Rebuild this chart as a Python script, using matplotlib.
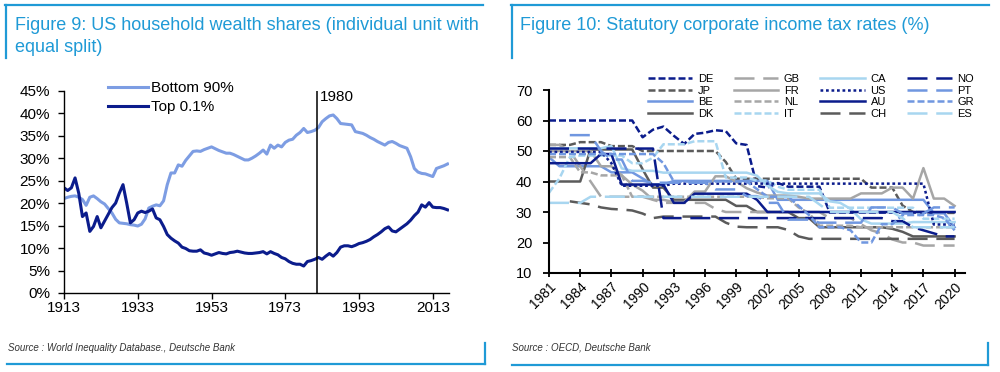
import numpy as np
import matplotlib.pyplot as plt
from matplotlib.lines import Line2D
from matplotlib.ticker import FuncFormatter

plt.rcParams['font.family'] = ['Liberation Sans', 'DejaVu Sans']

# ---------- data: figure 9 ----------
wealth_years = list(range(1913, 2018))
bottom90 = [21.0, 21.3, 21.5, 21.6, 21.3, 20.8, 19.5, 21.3, 21.6, 21.0,
            20.3, 19.8, 18.8, 17.8, 16.4, 15.6, 15.5, 15.4, 15.2, 15.1,
            14.9, 15.3, 16.5, 18.9, 19.3, 19.6, 19.4, 20.5, 24.1, 26.7,
            26.7, 28.5, 28.2, 29.5, 30.5, 31.5, 31.6, 31.5, 31.9, 32.2,
            32.5, 32.1, 31.7, 31.4, 31.1, 31.1, 30.8, 30.4, 30.0, 29.6,
            29.6, 30.0, 30.5, 31.1, 31.8, 30.9, 32.9, 32.2, 32.9, 32.5,
            33.5, 34.0, 34.2, 35.1, 35.7, 36.6, 35.7, 35.9, 36.2, 36.8,
            38.1, 38.8, 39.4, 39.6, 38.8, 37.7, 37.6, 37.5, 37.4, 35.9,
            35.7, 35.5, 35.1, 34.6, 34.2, 33.7, 33.3, 32.9, 33.5, 33.7,
            33.3, 32.8, 32.5, 32.2, 30.3, 27.7, 26.9, 26.6, 26.5, 26.2,
            25.9, 27.7, 28.0, 28.3, 28.7]
top01 = [23.4, 22.8, 23.4, 25.6, 22.2, 17.0, 17.8, 13.7, 14.8, 17.0,
         14.5, 16.0, 17.5, 19.0, 20.0, 22.2, 24.1, 20.0, 15.6, 16.3,
         17.8, 18.2, 17.9, 18.2, 18.7, 16.7, 16.3, 14.8, 13.0, 12.2,
         11.6, 11.1, 10.2, 9.9, 9.4, 9.3, 9.3, 9.6, 8.9, 8.7,
         8.4, 8.7, 9.0, 8.8, 8.7, 9.0, 9.1, 9.3, 9.1, 8.9,
         8.8, 8.8, 8.9, 9.0, 9.2, 8.7, 9.2, 8.8, 8.5, 7.9,
         7.6, 7.0, 6.6, 6.4, 6.4, 6.0, 7.0, 7.2, 7.5, 7.9,
         7.5, 8.2, 8.8, 8.2, 9.0, 10.2, 10.5, 10.5, 10.3, 10.6,
         11.0, 11.2, 11.5, 11.9, 12.5, 13.0, 13.6, 14.3, 14.7, 13.8,
         13.6, 14.2, 14.8, 15.4, 16.2, 17.2, 18.0, 19.6, 19.1, 20.1,
         19.1, 19.0, 19.0, 18.8, 18.5]
wealth_ticks = [1913, 1933, 1953, 1973, 1993, 2013]
marker_label = "1980"
marker_pos = 1981.5

# ---------- data: figure 10 ----------
tax_years = list(range(1981, 2021))
nan = np.nan
DE = [60]*9 + [54.5, 57.0, 58.0, 55.0, 52.3, 55.6, 56.0, 56.8, 56.5, 52.5, 52.0,
               38.5, 38.0, 39.5, 38.3, 38.3, 38.3, 38.3] + [29.8]*13
JP = [52.0]*3 + [52.9]*3 + [51.6]*3 + [50.0]*8 + [46.4] + [40.9]*13 + [38.0]*3 + [32.1] + [30.0]*2 + [29.7]*3
BE = [48, 45] + [45]*4 + [43]*3 + [41, 39, 39] + [40.2]*10 + [34.0]*15 + [29.6]*2 + [25.0]
DK = [40]*4 + [50.5]*5 + [44, 38, 38, 34] + [34]*5 + [32]*2 + [30]*4 + [28]*2 + [25]*7 + [24.5, 23.5] + [22]*5
GB = [52, 52, 50, 45, 40, 35] + [35]*4 + [34] + [33]*5 + [31] + [30]*10 + [28]*3 + [26, 24, 23, 21] + [20]*2 + [19]*4
FR = [50]*5 + [45, 45, 42, 39, 37, 34, 34, 33.3, 33.3, 36.7, 36.7, 41.7, 41.7, 40.0, 37.8, 36.4] + \
     [35.4]*3 + [35.0] + [34.4]*5 + [36.1]*3 + [38.0]*2 + [34.4, 44.4, 34.4, 34.4, 32.0]
NL = [48]*3 + [43]*2 + [42]*3 + [35]*13 + [34.5]*3 + [31.5, 29.6] + [25.5]*4 + [25]*10
IT = [36.3, 41.0, 48.0] + [48.5]*5 + [46.0]*2 + [47.8] + [52.2]*3 + [53.2]*3 + [41.3]*3 + \
     [40.3]*2 + [38.3] + [37.3]*4 + [31.4]*9 + [27.8]*4
CA = [50.9]*6 + [51.6, 44.3] + [43.5]*3 + [42.9]*9 + [41.9, 38.6, 36.6] + [36.1]*4 + \
     [33.5, 33.0, 31.0, 27.6] + [26.2]*4 + [26.7]*5
US = [49.7]*6 + [46.0] + [38.6]*5 + [39.3]*25 + [25.9]*3
AU = [46]*5 + [49]*2 + [39]*5 + [33]*2 + [36]*6 + [34] + [30]*19
CH = [nan]*2 + [33.5, 33.0, 32.5, 31.5, 31.0, 30.8, 30.5, 29.5, 28.0] + [28.5]*6 + \
     [26.5, 25.2] + [25.0]*4 + [24.1, 22.0] + [21.2]*15
NO = [50.8]*11 + [28]*22 + [27]*2 + [25, 24, 23, 22, 22]
PT = [nan]*2 + [55.2]*3 + [50.0, 47.2, 47.2] + [40.2]*2 + [39.6]*6 + [37.4]*3 + [35.2]*2 + \
     [33.0]*2 + [27.5]*3 + [26.5]*5 + [31.5]*3 + [29.5]*3 + [31.5]*3
GR = [49.0]*11 + [46.0] + [40.0]*8 + [37.5] + [35]*3 + [32, 29] + [25]*3 + [24] + [20]*2 + \
     [26]*2 + [29]*4 + [28, 24]
ES = [33]*4 + [35]*22 + [32.5] + [30]*7 + [28] + [25]*5
tax_ticks = list(range(1981, 2021, 3))

# ---------- styles ----------
navy = '#0b1c8c'
dgrey = '#5b5b5b'
mgrey = '#a6a6a6'
mblue = '#7097e0'
lblue = '#a8d6f0'
dbblue = '#1f9ad6'

short = (0, (2.8, 1.2))
longd = (0, (8, 3.5))
dots = (0, (1.1, 1.1))

countries = [
    ('DE', DE, navy, short), ('JP', JP, dgrey, short), ('BE', BE, mblue, '-'), ('DK', DK, dgrey, '-'),
    ('GB', GB, mgrey, longd), ('FR', FR, mgrey, '-'), ('NL', NL, mgrey, short), ('IT', IT, lblue, short),
    ('CA', CA, lblue, '-'), ('US', US, navy, dots), ('AU', AU, navy, '-'), ('CH', CH, dgrey, longd),
    ('NO', NO, navy, longd), ('PT', PT, mblue, longd), ('GR', GR, mblue, short), ('ES', ES, lblue, longd),
]

W, H = 1000, 372
def fx(px):
    return px / W
def fy(py):
    return 1 - py / H

fig = plt.figure(figsize=(10, 3.72), dpi=100)

# ---------- left chart ----------
ax1 = fig.add_axes([fx(64), fy(293), fx(449 - 64), (293 - 90.7) / H])
ax1.plot(wealth_years, bottom90, color='#7d9de3', lw=2.2, label='Bottom 90%')
ax1.plot(wealth_years, top01, color=navy, lw=2.2, label='Top 0.1%')
ax1.axvline(marker_pos, color='black', lw=1.1)
ax1.text(marker_pos + 1.0, 43.7, marker_label, fontsize=11, va='center', ha='left')
ax1.set_xlim(1913, 2017.4)
ax1.set_ylim(0, 45)
ax1.set_yticks(range(0, 46, 5))
ax1.yaxis.set_major_formatter(FuncFormatter(lambda v, p: f"{v:.0f}%"))
ax1.set_xticks(wealth_ticks)
for s in ['top', 'right']:
    ax1.spines[s].set_visible(False)
for s in ['left', 'bottom']:
    ax1.spines[s].set_linewidth(1.0)
ax1.tick_params(axis='y', labelsize=11, length=4, width=1.0, pad=6)
ax1.tick_params(axis='x', labelsize=11, length=4, width=1.0, pad=2)
ax1.legend(loc='upper left', bbox_to_anchor=(fx(108), fy(81)), bbox_transform=fig.transFigure,
           frameon=False, fontsize=11, handlelength=2.6, handletextpad=0.2,
           labelspacing=0.35, borderpad=0, borderaxespad=0)

# ---------- right chart ----------
ax2 = fig.add_axes([fx(549), fy(273), fx(965 - 549), (273 - 90) / H])
for name, vals, col, ls in countries:
    ax2.plot(tax_years, vals, color=col, linestyle=ls, lw=1.8, label=name)
ax2.set_xlim(1981, 2021)
ax2.set_ylim(10, 70)
ax2.set_yticks(range(10, 71, 10))
ax2.set_xticks(tax_ticks)
for s in ['top', 'right']:
    ax2.spines[s].set_visible(False)
for s in ['left', 'bottom']:
    ax2.spines[s].set_linewidth(1.5)
ax2.tick_params(axis='y', labelsize=10.5, length=4, width=1.3, pad=8)
ax2.tick_params(axis='x', labelsize=10, length=6, width=1.3, direction='inout', pad=2)
for lab in ax2.get_xticklabels():
    lab.set_rotation(45)
    lab.set_ha('right')
    lab.set_va('top')
    lab.set_rotation_mode('anchor')
ax2.legend(loc='upper left', bbox_to_anchor=(fx(648), fy(74)), bbox_transform=fig.transFigure,
           ncol=4, frameon=False, fontsize=8, handlelength=4.0, handletextpad=0.5,
           labelspacing=0.14, columnspacing=1.85, borderpad=0, borderaxespad=0)

# ---------- titles, sources and frames ----------
fig.text(fx(15), fy(25), "Figure 9: US household wealth shares (individual unit with",
         color=dbblue, fontsize=13, va='center')
fig.text(fx(15), fy(47), "equal split)", color=dbblue, fontsize=13, va='center')
fig.text(fx(520), fy(25), "Figure 10: Statutory corporate income tax rates (%)",
         color=dbblue, fontsize=13, va='center')
fig.text(fx(8), fy(348), "Source : World Inequality Database., Deutsche Bank",
         style='italic', fontsize=7, va='center', color='#333333')
fig.text(fx(512), fy(348), "Source : OECD, Deutsche Bank",
         style='italic', fontsize=7, va='center', color='#333333')

frames = [
    ((5, 483), (5, 5)), ((6, 6), (5, 58)),
    ((511, 989), (5, 5)), ((512, 512), (5, 58)),
    ((7, 485), (364, 364)), ((485, 485), (343, 364)),
    ((512, 988), (365, 365)), ((988, 988), (343, 365)),
]
for xs, ys in frames:
    fig.add_artist(Line2D([fx(x) for x in xs], [fy(y) for y in ys],
                          color=dbblue, lw=1.6, transform=fig.transFigure))

fig.savefig('out.png', dpi=100)
